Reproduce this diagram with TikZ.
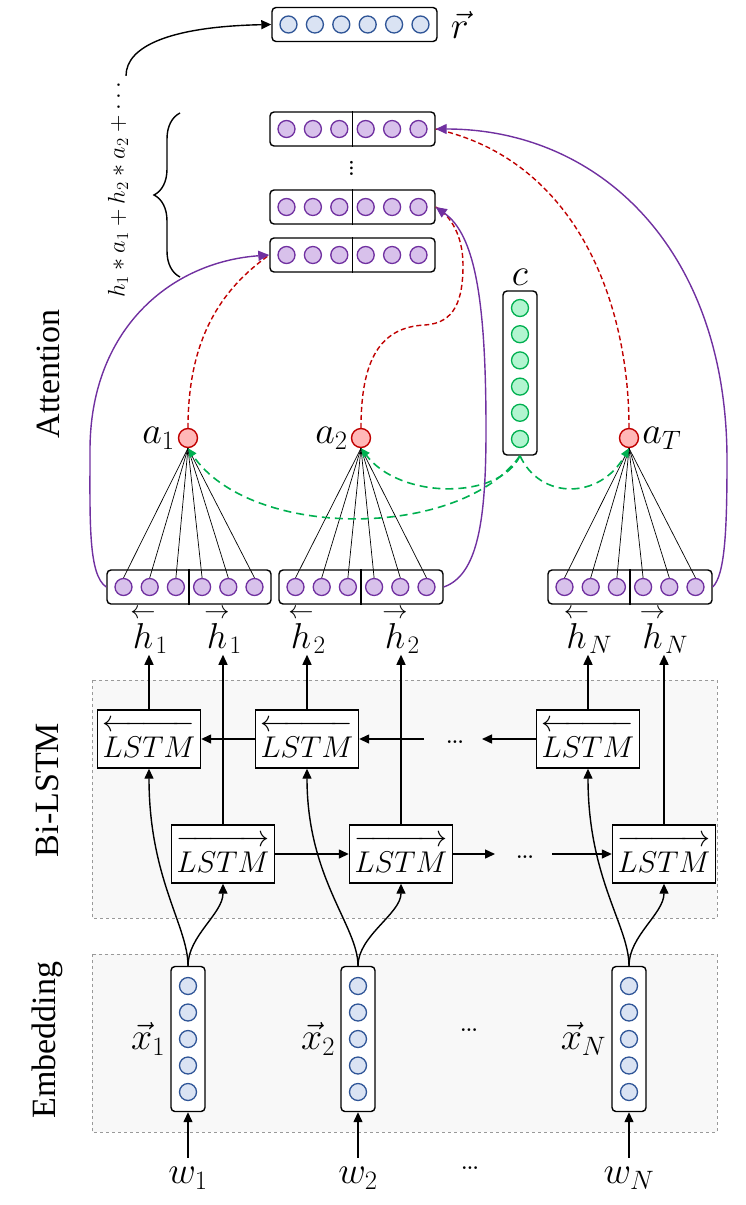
\RequirePackage{fix-cm}
\documentclass[tikz,border=0pt]{standalone}
\usepackage{amsmath}
\usepackage{fontspec}
\newfontfamily\labelfont{Liberation Serif}
\usetikzlibrary{positioning,arrows.meta,calc,decorations.pathreplacing}

\definecolor{dotblue}{RGB}{47,85,151}
\definecolor{dotbluefill}{RGB}{218,227,243}
\definecolor{attpurple}{RGB}{112,48,160}
\definecolor{attpurplefill}{RGB}{216,193,235}
\definecolor{ctxgreen}{RGB}{0,176,80}
\definecolor{ctxgreenfill}{RGB}{178,245,208}
\definecolor{wred}{RGB}{192,0,0}
\definecolor{wredfill}{RGB}{255,183,183}
\definecolor{layerfill}{RGB}{248,248,248}
\newcommand{\lh}{\overset{\scriptstyle\leftarrow}{h}}
\newcommand{\rh}{\overset{\scriptstyle\rightarrow}{h}}
\newcommand{\cell}{\rule{0pt}{0.85em}LSTM}

\begin{document}
\begin{tikzpicture}[
    x=1pt, y=1pt,
    vecbox/.style={draw, rounded corners=4pt, line width=1.4pt, fill=white, inner sep=0pt},
    hvec/.style={vecbox, minimum width=165pt, minimum height=34pt},
    vvec/.style={vecbox, minimum width=34pt},
    dotbase/.style={circle, inner sep=0pt, minimum size=17pt, line width=1.3pt},
    bluedot/.style={dotbase, draw=dotblue, fill=dotbluefill},
    purpdot/.style={dotbase, draw=attpurple, fill=attpurplefill},
    greendot/.style={dotbase, draw=ctxgreen, fill=ctxgreenfill},
    weight/.style={circle, inner sep=0pt, minimum size=19pt, line width=1.4pt, draw=wred, fill=wredfill},
    lstm/.style={draw, line width=1.4pt, fill=white, minimum width=103pt, minimum height=58pt,
      inner sep=0pt, font=\fontsize{30}{32}\selectfont},
    layerbg/.style={draw=black!40, dashed, fill=layerfill, line width=0.8pt},
    layername/.style={rotate=90, font=\labelfont\fontsize{34}{36}\selectfont},
    sym/.style={inner sep=1pt, font=\fontsize{38}{40}\selectfont},
    hsym/.style={inner sep=1pt, font=\fontsize{36}{38}\selectfont},
    ell/.style={inner sep=0pt, font=\fontsize{34}{36}\selectfont},
    flow/.style={line width=1.4pt, -{Triangle[length=10pt, width=9pt]}},
    skip/.style={attpurple, line width=1.4pt, -{Triangle[length=11pt, width=10pt]}},
    score/.style={wred, line width=1.4pt, dash pattern=on 5pt off 3pt},
    query/.style={ctxgreen, line width=1.6pt, dash pattern=on 8pt off 5pt,
      -{Triangle[length=9pt, width=8pt]}},
    fan/.style={line width=0.7pt},
  ]
    \useasboundingbox (0,0) rectangle (746,-1205);

    % layer backgrounds
    \draw[layerbg] (92,-680) rectangle (717,-918);
    \draw[layerbg] (92,-954) rectangle (717,-1132);
    \node[layername] (lblatt) at (48,-374) {Attention};
    \node[layername] (lbllstm) at (47,-790) {Bi-LSTM};
    \node[layername] (lblemb) at (47,-1040) {Embedding};

    % embedding: word vectors
    \foreach \n/\x/\lab in {1/188/1, 2/358/2, 3/629/N} {
      \node[vvec, minimum height=145pt] (x\n) at (\x,-1039) {};
      \foreach \k in {1,...,5}
        \node[bluedot] (x\n-\k) at (\x,{-986-26.5*(\k-1)}) {};
      \node[sym, left=4pt of x\n] (xl\n) {$\vec{x}_{\lab}$};
      \node[sym] (w\n) at (\x,-1178) {$w_{\lab}$};
      \draw[flow, shorten <=8pt] (w\n.north) -- (x\n.south);
    }
    \node[ell] (embdots) at (469,-1030) {\ldots};
    \node[ell] (wdots) at (470,-1168) {\ldots};

    % Bi-LSTM cells
    \foreach \n/\xb/\xf in {1/149/223, 2/307/401, 3/588/664} {
      \node[lstm] (bL\n) at (\xb,-739) {$\overleftarrow{\cell}$};
      \node[lstm] (fL\n) at (\xf,-854) {$\overrightarrow{\cell}$};
      \draw[flow] (x\n.north) .. controls +(0,40) and +(0,-110) .. (bL\n.south);
      \draw[flow] (x\n.north) .. controls +(0,30) and +(0,-30) .. (fL\n.south);
    }

    % recurrent links
    \coordinate (bgap) at (424,-739);
    \coordinate (bend) at (482,-739);
    \coordinate (fgap) at (495,-854);
    \coordinate (fstart) at (552,-854);
    \draw[flow] (bL2.west) -- (bL1.east);
    \draw[flow] (bgap) -- (bL2.east);
    \node[ell] (bdots) at (455,-742) {\ldots};
    \draw[flow] (bL3.west) -- (bend);
    \draw[flow] (fL1.east) -- (fL2.west);
    \draw[flow] (fL2.east) -- (fgap);
    \node[ell] (fdots) at (525,-857) {\ldots};
    \draw[flow] (fstart) -- (fL3.west);

    % hidden states
    \foreach \n/\x in {1/189, 2/361, 3/630} {
      \node[hvec, minimum width=164pt] (h\n) at (\x,-587) {};
      \draw[line width=1.2pt] (h\n.north) -- (h\n.south);
      \foreach \k in {1,...,6}
        \node[purpdot] (h\n-\k) at ({\x-91.7+26.2*\k},-587) {};
    }
    \foreach \n/\xb/\xf/\lab in {1/149/223/1, 2/307/401/2, 3/588/664/N} {
      \node[hsym] (hb\n) at (\xb,-630) {$\lh_{\lab}$};
      \node[hsym] (hf\n) at (\xf,-630) {$\rh_{\lab}$};
      \draw[flow] (bL\n.north) -- (hb\n.south);
      \draw[flow] (fL\n.north) -- (hf\n.south);
    }

    % attention weights
    \node[weight] (a1) at (188,-438) {};
    \node[weight] (a2) at (361,-438) {};
    \node[weight] (a3) at (629,-438) {};
    \node[sym, left=2pt of a1] (al1) {$a_1$};
    \node[sym, left=2pt of a2] (al2) {$a_2$};
    \node[sym, right=2pt of a3] (al3) {$a_T$};
    \foreach \n in {1,2,3}
      \foreach \k in {1,...,6}
        \draw[fan] (h\n-\k.north) -- (a\n.south);

    % context vector
    \node[vvec, minimum height=164pt] (c) at (520,-373) {};
    \foreach \k in {1,...,6}
      \node[greendot] (c-\k) at (520,{-308-26.2*(\k-1)}) {};
    \node[sym, above=4pt of c] (cl) {$c$};
    \draw[query] (c.south) .. controls (460,-540) and (250,-540) .. (a1.south);
    \draw[query] (c.south) .. controls (500,-500) and (400,-500) .. (a2.south);
    \draw[query] (c.south) .. controls (540,-500) and (600,-500) .. (a3.south);

    % weighted states
    \foreach \s/\y in {T/-129, 2/-207, 1/-255} {
      \node[hvec] (s\s) at (352.5,\y) {};
      \draw[line width=1.2pt] (s\s.north) -- (s\s.south);
      \foreach \k in {1,...,6}
        \node[purpdot] (s\s-\k) at ({352.5-92.4+26.4*\k},\y) {};
    }
    \node[rotate=-90, inner sep=0pt, font=\fontsize{34}{36}\selectfont] (sdots) at (352,-168) {\ldots};
    \draw[decorate, decoration={brace, amplitude=26pt, aspect=0.5}, line width=1.4pt]
      (180,-277) -- (180,-113);
    \node[rotate=90, inner sep=2pt, font=\fontsize{24}{26}\selectfont] (sum) at (118,-188)
      {$h_1 * a_1 + h_2 * a_2 + \cdots$};

    % output vector
    \node[hvec] (r) at (354.5,-24.5) {};
    \foreach \k in {1,...,6}
      \node[bluedot] (r-\k) at ({354.5-92.4+26.4*\k},-24.5) {};
    \node[sym, right=12pt of r] (rl) {$\vec{r}$};
    \draw[flow] ([xshift=8pt]sum.east) .. controls +(0,30) and +(-100,-2) .. (r.west);

    % scores to weighted states
    \draw[score] (a1.north) .. controls (188,-340) and (220,-290) .. (s1.west);
    \draw[score] (a2.north) .. controls (361,-360) and (380,-327) .. (425,-325)
      .. controls (455,-323) and (463,-300) .. (463,-265)
      .. controls (463,-235) and (450,-215) .. (s2.east);
    \draw[score] (a3.north) .. controls (629,-300) and (575,-160) .. (sT.east);

    % hidden states to weighted states
    \draw[skip] (h1.west) .. controls (88,-575) and (90,-520) .. (90,-450)
      .. controls (90,-330) and (170,-262) .. (s1.west);
    \draw[skip] (h2.east) .. controls (478,-575) and (486,-520) .. (486,-430)
      .. controls (486,-300) and (475,-235) .. (s2.east);
    \draw[skip] (h3.east) .. controls (725,-575) and (727,-530) .. (727,-460)
      .. controls (727,-250) and (600,-129) .. (sT.east);
  \end{tikzpicture}
\end{document}
